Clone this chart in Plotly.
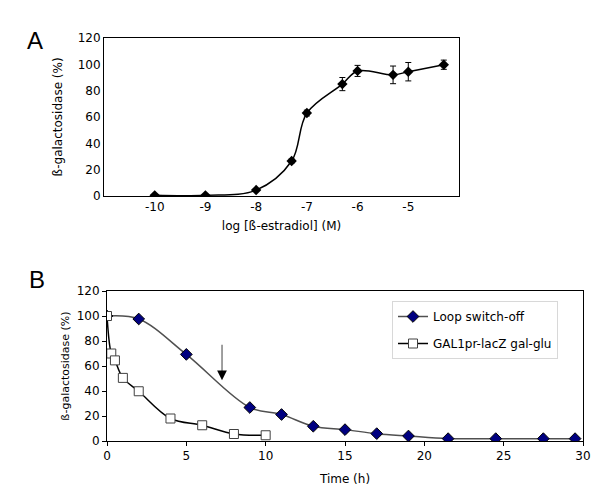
import plotly.graph_objects as go

# Panel A: dose response
log_estradiol = [-10, -9, -8, -7.3, -7, -6.3, -6, -5.3, -5, -4.3]
gal_pct_a = [0.5, 0.5, 4.5, 26.6, 63, 85, 95, 92, 94.4, 99.7]
gal_err_a = [0.5, 0.5, 0.8, 1.5, 2.2, 5, 4.2, 6.7, 7, 3.5]
a_ticks = [-10, -9, -8, -7, -6, -5]
a_tick_text = ['-10', '-9', '-8', '-7', '-6', '-5']

# Panel B: time course
loop_time = [0, 2, 5, 9, 11, 13, 15, 17, 19, 21.5, 24.5, 27.5, 29.5]
loop_pct = [100, 97.6, 69.3, 26.8, 21.2, 11.8, 9.1, 5.9, 4, 1.9, 1.9, 1.9, 1.9]
glu_time = [0, 0.27, 0.5, 1, 2, 4, 6, 8, 10]
glu_pct = [100, 70, 64.5, 50.5, 39.8, 18, 12.6, 5.6, 4.6]

arrow_x = 7.25
arrow_top = 77
arrow_tip = 48.6

FONT = 'DejaVu Sans'

# the page body has an 8px margin, so the figure is drawn 8px in from the corner
OFF = 8
W, H = 600 - OFF, 494 - OFF


def px(x):
    return (x - OFF) / W


def py(y):
    return 1 - (y - OFF) / H


fig = go.Figure()

fig.add_trace(go.Scatter(
    x=log_estradiol, y=gal_pct_a, xaxis='x', yaxis='y',
    mode='lines+markers',
    line=dict(color='black', width=1.5, shape='spline'),
    marker=dict(symbol='diamond', size=8, color='black'),
    error_y=dict(type='data', array=gal_err_a, color='black', thickness=1, width=3),
    showlegend=False,
))

fig.add_trace(go.Scatter(
    x=loop_time, y=loop_pct, xaxis='x2', yaxis='y2',
    mode='lines+markers', name='Loop switch-off', legendgroup='loop',
    line=dict(color='#505050', width=1.5, shape='spline'),
    marker=dict(symbol='diamond', size=9, color='#000080',
                line=dict(color='black', width=1)),
))

fig.add_trace(go.Scatter(
    x=glu_time, y=glu_pct, xaxis='x2', yaxis='y2',
    mode='lines+markers', name='GAL1pr-lacZ gal-glu', legendgroup='glu',
    line=dict(color='black', width=1.5, shape='spline'),
    marker=dict(symbol='square', size=9, color='white',
                line=dict(color='#404040', width=1)),
))

# arrow: gray shaft, black head
fig.add_shape(type='line', xref='x2', yref='y2',
              x0=arrow_x, x1=arrow_x, y0=arrow_top, y1=arrow_tip + 6,
              line=dict(color='#808080', width=1.5))
fig.add_annotation(x=arrow_x, y=arrow_tip, ax=arrow_x, ay=arrow_tip + 6,
                   xref='x2', yref='y2', axref='x2', ayref='y2',
                   text='', showarrow=True, arrowhead=2, arrowsize=1.3,
                   arrowwidth=1.5, arrowcolor='black')

fig.add_annotation(x=px(25), y=py(25), xref='paper', yref='paper',
                   text='A', showarrow=False,
                   font=dict(family='Liberation Sans', size=24, color='black'))
fig.add_annotation(x=px(27), y=py(279), xref='paper', yref='paper',
                   text='B', showarrow=False,
                   font=dict(family='Liberation Sans', size=24, color='black'))

axis_common = dict(showline=True, mirror=True, linecolor='black', linewidth=1,
                   showgrid=False, zeroline=False, automargin=False,
                   tickfont=dict(family=FONT, size=12, color='black'))

fig.update_layout(
    width=W, height=H,
    margin=dict(l=0, r=0, t=0, b=0, autoexpand=False),
    paper_bgcolor='white', plot_bgcolor='white',
    font=dict(family=FONT, color='black'),
    xaxis=dict(domain=[px(104), px(459)], anchor='y', range=[-11, -4],
               tickvals=a_ticks, ticktext=a_tick_text, ticks='',
               title=dict(text='log [ß-estradiol] (M)', font=dict(size=12), standoff=8),
               **axis_common),
    yaxis=dict(domain=[py(196), py(38)], anchor='x', range=[0, 120],
               dtick=20, ticks='',
               title=dict(text='ß-galactosidase (%)', font=dict(size=12), standoff=12),
               **axis_common),
    xaxis2=dict(domain=[px(107), px(583)], anchor='y2', range=[0, 30],
                dtick=5, ticks='outside', ticklen=4, tickcolor='black',
                title=dict(text='Time (h)', font=dict(size=12), standoff=12),
                **axis_common),
    yaxis2=dict(domain=[py(441), py(291)], anchor='x2', range=[0, 120],
                dtick=20, ticks='outside', ticklen=4, tickcolor='black',
                title=dict(text='ß-galactosidase (%)', font=dict(size=11), standoff=4),
                **axis_common),
    legend=dict(x=px(392), y=py(301), xanchor='left', yanchor='top',
                bordercolor='#d8d8d8', borderwidth=1, bgcolor='white',
                font=dict(family=FONT, size=12),
                traceorder='grouped', tracegroupgap=8,
                itemwidth=30),
)

fig.write_html("out.html")
